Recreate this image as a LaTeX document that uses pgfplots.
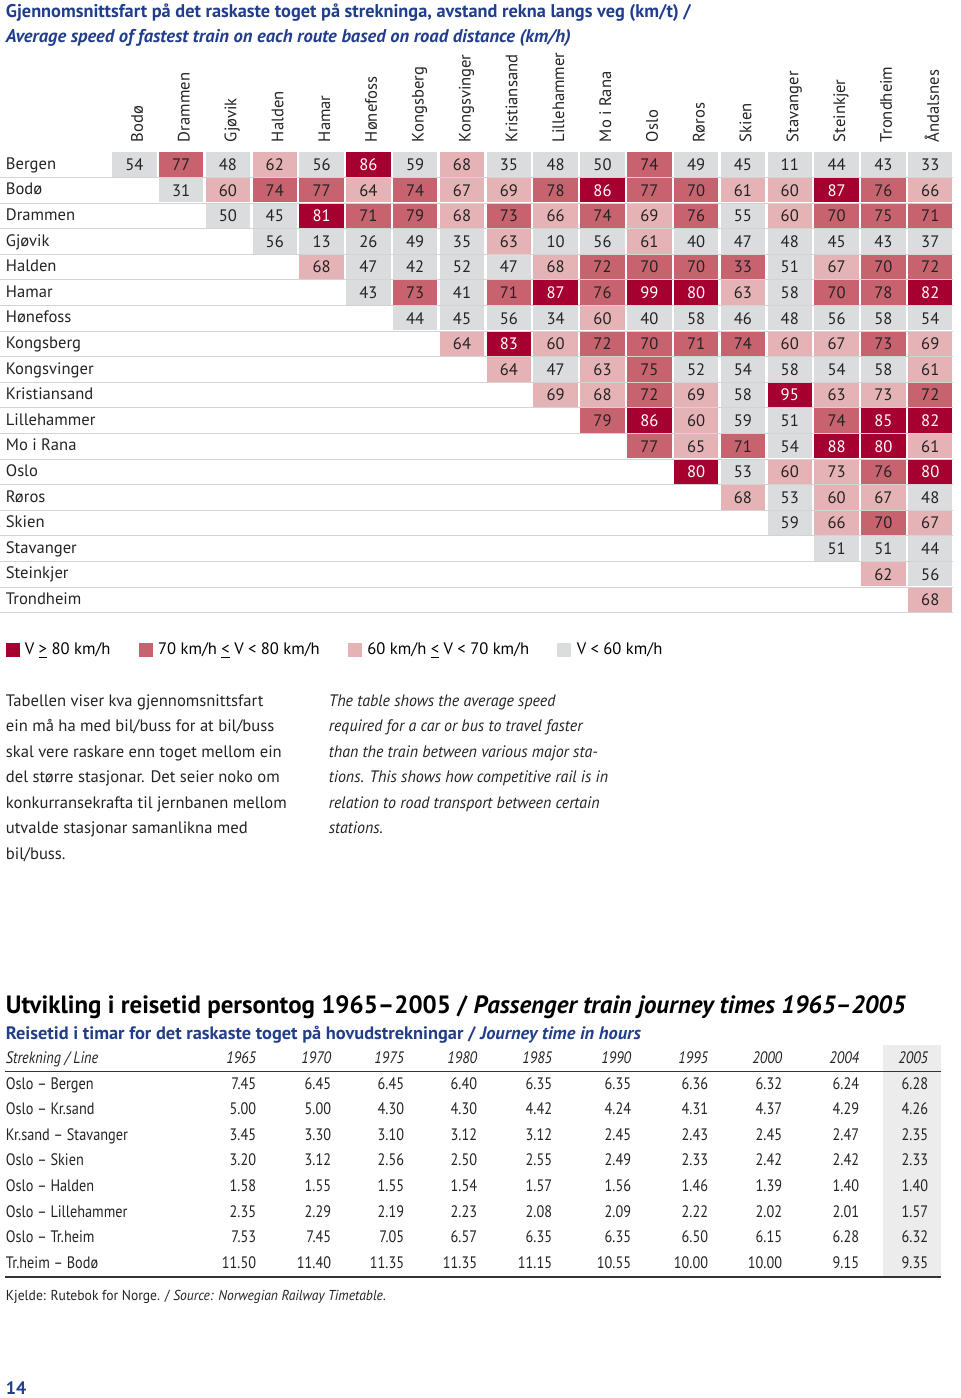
\documentclass[border=0pt]{standalone}
\usepackage{fontspec}
\setmainfont{PT Sans}
\usepackage{graphicx}
\usepackage{pgfplots}
\usepackage{pgfplotstable}
\pgfplotsset{compat=1.18}

\definecolor{cblue}{RGB}{33,62,140}
\definecolor{cdark}{RGB}{166,0,48}
\definecolor{cmid}{RGB}{199,99,110}
\definecolor{clight}{RGB}{229,179,182}
\definecolor{cgrey}{RGB}{219,220,222}
\definecolor{cline}{RGB}{212,212,212}
\definecolor{cshade}{RGB}{236,236,236}
\definecolor{ctext}{RGB}{35,35,35}

\pgfdeclareplotmark{cell}{\pgfpathrectangle{\pgfpoint{-11.1pt}{-6.1pt}}{\pgfpoint{22.2pt}{12.2pt}}\pgfusepathqfill}
\pgfdeclareplotmark{nothing}{}

\newcommand\fnt{\fontsize{8.3}{10}\selectfont}
\newcommand\fitw[2]{\resizebox{#1}{\height}{#2}}
\newcommand\txt[4]{\node[anchor=base west, inner sep=0pt, text=ctext, font=#1] at (axis cs:#2,#3) {#4};}
\newcommand\itxt[3]{\node[anchor=base west, inner sep=0pt, text=ctext, font=\fnt\itshape] at (axis cs:#1,#2) {\scalebox{0.96}[1]{#3}};}
\newcommand\colhead[2]{\node[rotate=90, anchor=base west, inner sep=0pt, text=ctext, font=\fnt] at (axis cs:{133.8+46.82*#1+8.5},142.5) {#2};}
\newcommand\rowlab[2]{\node[anchor=base west, inner sep=0pt, text=ctext, font=\fnt] at (axis cs:5,{164.6+25.6*#1+4.7}) {#2};}
\newcommand\yh[2]{\node[anchor=base east, inner sep=0pt, text=ctext, font=\fnt\itshape] at (axis cs:#1,1063) {\scalebox{0.86}[1]{#2}};}
\newcommand\jrow[2]{\node[anchor=base west, inner sep=0pt, text=ctext, font=\fnt] at (axis cs:5,{1089+25.6*#1}) {\scalebox{0.86}[1]{#2}};}
\newcommand\yearcol[2]{\addplot[only marks, mark=nothing, forget plot, point meta=explicit,
  nodes near coords={\scalebox{0.86}[1]{\pgfmathprintnumber[fixed, fixed zerofill, precision=2]{\pgfplotspointmeta}}},
  every node near coord/.append style={inner sep=0pt, font=\fnt, text=ctext, anchor=base east}]
  table[x expr=#2, y expr={1089+25.6*\thisrow{r}}, meta=#1]{\journey};}
\newcommand\cells[3]{\addplot[only marks, mark=cell, forget plot, fill=#2, draw=none, point meta=explicit,
  nodes near coords={\pgfmathprintnumber{\pgfplotspointmeta}},
  every node near coord/.append style={inner sep=0pt, font=\fnt, text=#3, anchor=center}]
  table[x expr={133.8+46.82*\thisrow{c}}, y expr={164.6+25.6*\thisrow{r}}, meta=v]{#1};}

% speeds (km/h); c = column, r = row; one table per colour class as shown
\pgfplotstableread{
c r v
5 0 86
10 1 86
15 1 87
4 2 81
9 5 87
11 5 99
12 5 80
17 5 82
8 7 83
14 9 95
11 10 86
16 10 85
17 10 82
15 11 88
16 11 80
12 12 80
17 12 80
}\sdark
\pgfplotstableread{
c r v
1 0 77
11 0 74
3 1 74
4 1 77
6 1 74
9 1 78
11 1 77
12 1 70
16 1 76
5 2 71
6 2 79
8 2 73
10 2 74
12 2 76
15 2 70
16 2 75
17 2 71
10 4 72
11 4 70
12 4 70
13 4 33
16 4 70
17 4 72
6 5 73
8 5 71
10 5 76
15 5 70
16 5 78
10 7 72
11 7 70
12 7 71
13 7 74
16 7 73
11 8 75
11 9 72
17 9 72
10 10 79
15 10 74
11 11 77
13 11 71
16 12 76
16 14 70
}\smid
\pgfplotstableread{
c r v
3 0 62
7 0 68
2 1 60
5 1 64
7 1 67
8 1 69
13 1 61
14 1 60
17 1 66
7 2 68
9 2 66
11 2 69
14 2 60
8 3 63
11 3 61
4 4 68
9 4 68
15 4 67
13 5 63
10 6 60
7 7 64
9 7 60
14 7 60
15 7 67
17 7 69
8 8 64
10 8 63
17 8 61
9 9 69
10 9 68
12 9 69
15 9 63
16 9 73
12 10 60
12 11 65
17 11 61
14 12 60
15 12 73
13 13 68
15 13 60
16 13 67
15 14 66
17 14 67
16 16 62
17 17 68
}\slight
\pgfplotstableread{
c r v
0 0 54
2 0 48
4 0 56
6 0 59
8 0 35
9 0 48
10 0 50
12 0 49
13 0 45
14 0 11
15 0 44
16 0 43
17 0 33
1 1 31
2 2 50
3 2 45
13 2 55
3 3 56
4 3 13
5 3 26
6 3 49
7 3 35
9 3 10
10 3 56
12 3 40
13 3 47
14 3 48
15 3 45
16 3 43
17 3 37
5 4 47
6 4 42
7 4 52
8 4 47
14 4 51
5 5 43
7 5 41
14 5 58
6 6 44
7 6 45
8 6 56
9 6 34
11 6 40
12 6 58
13 6 46
14 6 48
15 6 56
16 6 58
17 6 54
9 8 47
12 8 52
13 8 54
14 8 58
15 8 54
16 8 58
13 9 58
13 10 59
14 10 51
14 11 54
13 12 53
14 13 53
17 13 48
14 14 59
15 15 51
16 15 51
17 15 44
17 16 56
}\sgrey

% journey times in hours
\pgfplotstableread{
r y1965 y1970 y1975 y1980 y1985 y1990 y1995 y2000 y2004 y2005
0 7.45 6.45 6.45 6.40 6.35 6.35 6.36 6.32 6.24 6.28
1 5.00 5.00 4.30 4.30 4.42 4.24 4.31 4.37 4.29 4.26
2 3.45 3.30 3.10 3.12 3.12 2.45 2.43 2.45 2.47 2.35
3 3.20 3.12 2.56 2.50 2.55 2.49 2.33 2.42 2.42 2.33
4 1.58 1.55 1.55 1.54 1.57 1.56 1.46 1.39 1.40 1.40
5 2.35 2.29 2.19 2.23 2.08 2.09 2.22 2.02 2.01 1.57
6 7.53 7.45 7.05 6.57 6.35 6.35 6.50 6.15 6.28 6.32
7 11.50 11.40 11.35 11.35 11.15 10.55 10.00 10.00 9.15 9.35
}\journey

\begin{document}
\begin{tikzpicture}
\begin{axis}[
  scale only axis, width=480pt, height=699pt,
  xmin=0, xmax=960, ymin=0, ymax=1398, y dir=reverse,
  hide axis, clip=false,
  /pgf/number format/assume math mode=true,
  legend columns=4,
  legend cell align=left,
  legend image code/.code={\fill[#1, draw=none] (0pt,-3.6pt) rectangle (7pt,3.6pt);},
  legend style={at={(axis cs:5,650)}, anchor=west, draw=none, fill=none,
    inner sep=0pt, outer sep=0pt, font=\fnt,
    nodes={inner sep=1.3pt},
    /tikz/every odd column/.append style={column sep=1.4pt},
    /tikz/every even column/.append style={column sep=12.8pt}},
]
\path (rel axis cs:0,0) rectangle (rel axis cs:1,1);

% row separator lines
\draw[cline, line width=0.5pt] (axis cs:0,177.4) -- (axis cs:952,177.4);
\draw[cline, line width=0.5pt] (axis cs:0,203.0) -- (axis cs:952,203.0);
\draw[cline, line width=0.5pt] (axis cs:0,228.6) -- (axis cs:952,228.6);
\draw[cline, line width=0.5pt] (axis cs:0,254.2) -- (axis cs:952,254.2);
\draw[cline, line width=0.5pt] (axis cs:0,279.8) -- (axis cs:952,279.8);
\draw[cline, line width=0.5pt] (axis cs:0,305.4) -- (axis cs:952,305.4);
\draw[cline, line width=0.5pt] (axis cs:0,331.0) -- (axis cs:952,331.0);
\draw[cline, line width=0.5pt] (axis cs:0,356.6) -- (axis cs:952,356.6);
\draw[cline, line width=0.5pt] (axis cs:0,382.2) -- (axis cs:952,382.2);
\draw[cline, line width=0.5pt] (axis cs:0,407.8) -- (axis cs:952,407.8);
\draw[cline, line width=0.5pt] (axis cs:0,433.4) -- (axis cs:952,433.4);
\draw[cline, line width=0.5pt] (axis cs:0,459.0) -- (axis cs:952,459.0);
\draw[cline, line width=0.5pt] (axis cs:0,484.6) -- (axis cs:952,484.6);
\draw[cline, line width=0.5pt] (axis cs:0,510.2) -- (axis cs:952,510.2);
\draw[cline, line width=0.5pt] (axis cs:0,535.8) -- (axis cs:952,535.8);
\draw[cline, line width=0.5pt] (axis cs:0,561.4) -- (axis cs:952,561.4);
\draw[cline, line width=0.5pt] (axis cs:0,587.0) -- (axis cs:952,587.0);
\draw[cline, line width=0.5pt] (axis cs:0,612.6) -- (axis cs:952,612.6);

% heatmap cells
\cells{\sgrey}{cgrey}{ctext}
\cells{\slight}{clight}{ctext}
\cells{\smid}{cmid}{ctext}
\cells{\sdark}{cdark}{white}

% legend
\addlegendimage{fill=cdark}
\addlegendentry{V \underline{>} 80 km/h}
\addlegendimage{fill=cmid}
\addlegendentry{70 km/h \underline{<} V < 80 km/h}
\addlegendimage{fill=clight}
\addlegendentry{60 km/h \underline{<} V < 70 km/h}
\addlegendimage{fill=cgrey}
\addlegendentry{V < 60 km/h}

% titles
\node[anchor=base west, inner sep=0pt, text=cblue, font=\bfseries\fontsize{9.2}{11}\selectfont] at (axis cs:5,17) {\fitw{342.5pt}{Gjennomsnittsfart på det raskaste toget på strekninga, avstand rekna langs veg (km/t) /}};
\node[anchor=base west, inner sep=0pt, text=cblue, font=\bfseries\itshape\fontsize{9.2}{11}\selectfont] at (axis cs:5,42) {\fitw{282.5pt}{Average speed of fastest train on each route based on road distance (km/h)}};

% column headers
\colhead{0}{Bodø}
\colhead{1}{Drammen}
\colhead{2}{Gjøvik}
\colhead{3}{Halden}
\colhead{4}{Hamar}
\colhead{5}{Hønefoss}
\colhead{6}{Kongsberg}
\colhead{7}{Kongsvinger}
\colhead{8}{Kristiansand}
\colhead{9}{Lillehammer}
\colhead{10}{Mo i Rana}
\colhead{11}{Oslo}
\colhead{12}{Røros}
\colhead{13}{Skien}
\colhead{14}{Stavanger}
\colhead{15}{Steinkjer}
\colhead{16}{Trondheim}
\colhead{17}{Åndalsnes}

% row labels
\rowlab{0}{Bergen}
\rowlab{1}{Bodø}
\rowlab{2}{Drammen}
\rowlab{3}{Gjøvik}
\rowlab{4}{Halden}
\rowlab{5}{Hamar}
\rowlab{6}{Hønefoss}
\rowlab{7}{Kongsberg}
\rowlab{8}{Kongsvinger}
\rowlab{9}{Kristiansand}
\rowlab{10}{Lillehammer}
\rowlab{11}{Mo i Rana}
\rowlab{12}{Oslo}
\rowlab{13}{Røros}
\rowlab{14}{Skien}
\rowlab{15}{Stavanger}
\rowlab{16}{Steinkjer}
\rowlab{17}{Trondheim}

% paragraphs
\txt{\fnt}{5}{706}{Tabellen viser kva gjennomsnittsfart}
\txt{\fnt}{5}{731.5}{ein må ha med bil/buss for at bil/buss}
\txt{\fnt}{5}{757}{skal vere raskare enn toget mellom ein}
\txt{\fnt}{5}{782.5}{del større stasjonar. Det seier noko om}
\txt{\fnt}{5}{808}{konkurransekrafta til jernbanen mellom}
\txt{\fnt}{5}{833.5}{utvalde stasjonar samanlikna med}
\txt{\fnt}{5}{859}{bil/buss.}
\itxt{328}{706}{The table shows the average speed}
\itxt{328}{731.5}{required for a car or bus to travel faster}
\itxt{328}{757}{than the train between various major sta-}
\itxt{328}{782.5}{tions. This shows how competitive rail is in}
\itxt{328}{808}{relation to road transport between certain}
\itxt{328}{833.5}{stations.}

% second section
\node[anchor=base west, inner sep=0pt, text=black, font=\bfseries\fontsize{12.5}{14}\selectfont] at (axis cs:5,1013) {\fitw{450pt}{Utvikling i reisetid persontog 1965–2005 / \textit{Passenger train journey times 1965–2005}}};
\node[anchor=base west, inner sep=0pt, text=cblue, font=\bfseries\fontsize{9}{11}\selectfont] at (axis cs:5,1039) {\fitw{317.5pt}{Reisetid i timar for det raskaste toget på hovudstrekningar / \textit{Journey time in hours}}};

\fill[cshade] (axis cs:882,1045) rectangle (axis cs:940,1276);
\draw[black!80, line width=0.7pt] (axis cs:5,1071.5) -- (axis cs:940,1071.5);
\draw[black!80, line width=1.1pt] (axis cs:5,1277) -- (axis cs:940,1277);

\node[anchor=base west, inner sep=0pt, text=ctext, font=\fnt\itshape] at (axis cs:5,1063) {\scalebox{0.86}[1]{Strekning / Line}};
\yh{256}{1965}
\yh{331}{1970}
\yh{404}{1975}
\yh{477}{1980}
\yh{552}{1985}
\yh{631}{1990}
\yh{708}{1995}
\yh{782}{2000}
\yh{859}{2004}
\yh{928}{2005}

\jrow{0}{Oslo – Bergen}
\jrow{1}{Oslo – Kr.sand}
\jrow{2}{Kr.sand – Stavanger}
\jrow{3}{Oslo – Skien}
\jrow{4}{Oslo – Halden}
\jrow{5}{Oslo – Lillehammer}
\jrow{6}{Oslo – Tr.heim}
\jrow{7}{Tr.heim – Bodø}

\yearcol{y1965}{256}
\yearcol{y1970}{331}
\yearcol{y1975}{404}
\yearcol{y1980}{477}
\yearcol{y1985}{552}
\yearcol{y1990}{631}
\yearcol{y1995}{708}
\yearcol{y2000}{782}
\yearcol{y2004}{859}
\yearcol{y2005}{928}

\node[anchor=base west, inner sep=0pt, text=ctext, font=\fontsize{7.2}{9}\selectfont] at (axis cs:5,1300) {\fitw{190pt}{Kjelde: Rutebok for Norge. / \textit{Source: Norwegian Railway Timetable.}}};
\node[anchor=base west, inner sep=0pt, text=cblue, font=\bfseries\fontsize{9}{11}\selectfont] at (axis cs:5,1394.5) {14};

\end{axis}
\end{tikzpicture}
\end{document}
